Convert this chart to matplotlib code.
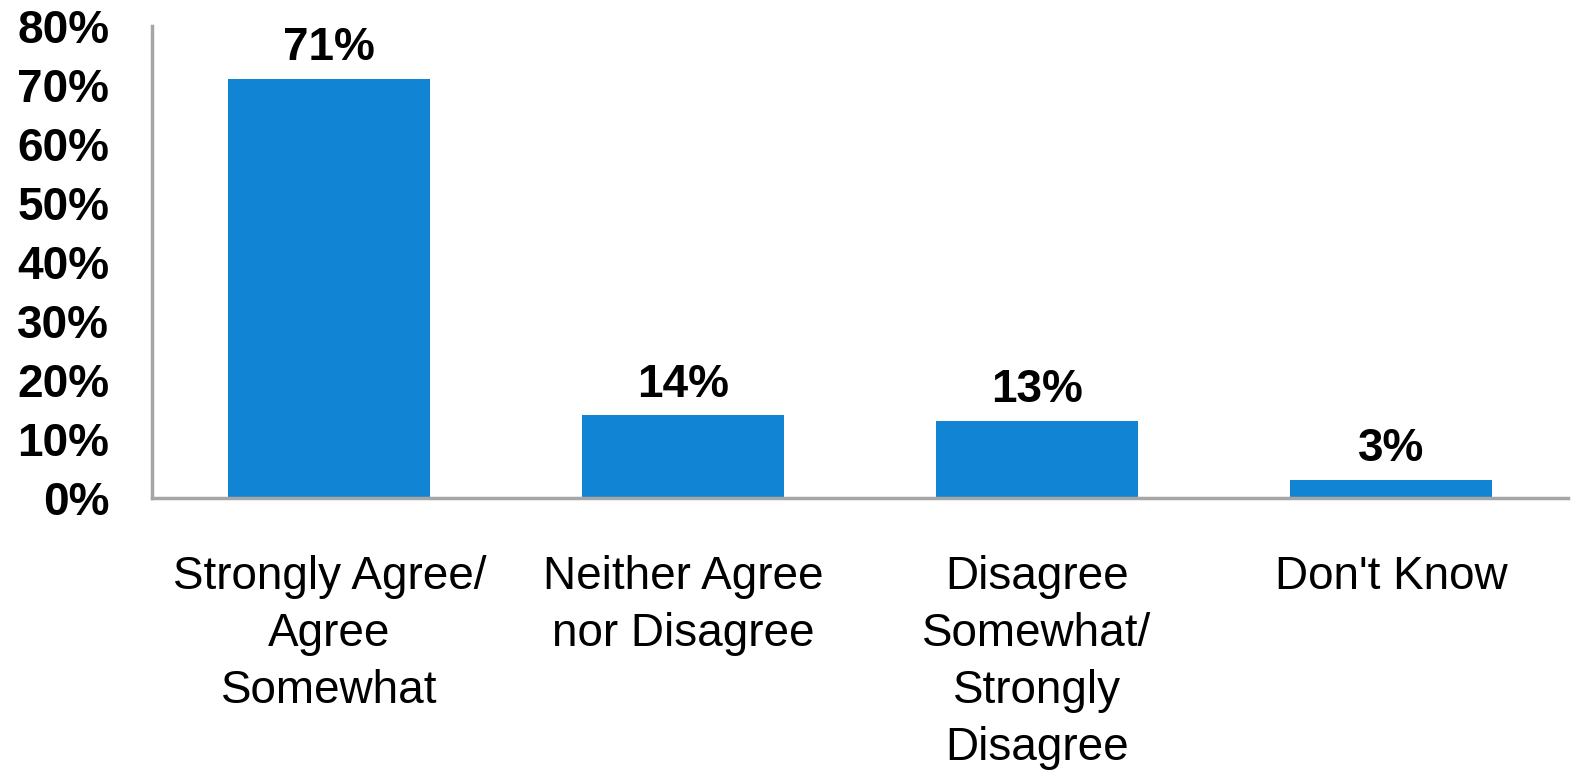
import matplotlib.pyplot as plt

# data
categories = ["Strongly Agree/\nAgree\nSomewhat", "Neither Agree\nnor Disagree",
              "Disagree\nSomewhat/\nStrongly\nDisagree", "Don't Know"]
values = [71, 14, 13, 3]
yticks = [0, 10, 20, 30, 40, 50, 60, 70, 80]

plt.rcParams['font.family'] = ['Liberation Sans', 'DejaVu Sans']

fig = plt.figure(figsize=(15.71, 7.72), dpi=100)
ax = fig.add_axes([0.097, 0.355, 0.901, 0.611])

x = range(len(categories))
bars = ax.bar(x, values, width=0.57, color='#1184d3', zorder=2)

for b, v in zip(bars, values):
    ax.text(b.get_x() + b.get_width() / 2, v + 1.5, f"{v}%",
            ha='center', va='bottom', fontsize=33, fontweight='bold', color='black')

ax.set_xlim(-0.5, len(categories) - 0.5)
ax.set_ylim(0, 80)
ax.set_yticks(yticks)
ax.set_yticklabels([f"{t}%" for t in yticks], fontsize=33, fontweight='bold')
ax.set_xticks(list(x))
ax.set_xticklabels(categories, fontsize=33, linespacing=1.38)

ax.tick_params(axis='both', length=0)
ax.tick_params(axis='y', pad=31)
ax.tick_params(axis='x', pad=41)

for s in ['top', 'right']:
    ax.spines[s].set_visible(False)
for s in ['left', 'bottom']:
    ax.spines[s].set_color('#a6a6a6')
    ax.spines[s].set_linewidth(2.5)

fig.savefig('out.png', dpi=100)
